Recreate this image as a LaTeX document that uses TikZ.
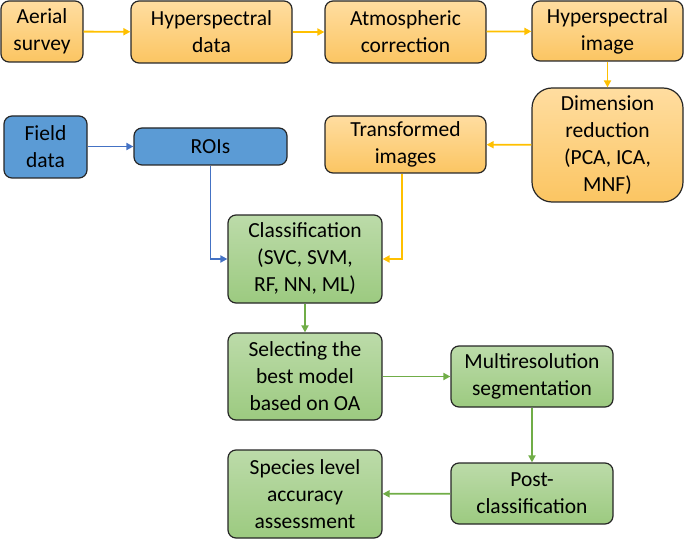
\documentclass[tikz,border=0pt]{standalone}
\usepackage{fontspec}
\setmainfont{Carlito}
\usetikzlibrary{arrows.meta}
\definecolor{orT}{HTML}{FFDDA0}
\definecolor{orB}{HTML}{FBC562}
\definecolor{grT}{HTML}{BCDBA9}
\definecolor{grB}{HTML}{9CCA80}
\definecolor{blF}{HTML}{5B9BD5}
\definecolor{yArr}{HTML}{FFC000}
\definecolor{bArr}{HTML}{4472C4}
\definecolor{gArr}{HTML}{70AD47}
\tikzset{
  boxbase/.style={draw=black!85, line width=1.2pt, rounded corners=8pt, align=center, inner sep=0pt,
    font=\fontsize{21.5}{27}\selectfont},
  orbox/.style={boxbase, top color=orT, bottom color=orB},
  grbox/.style={boxbase, top color=grT, bottom color=grB},
  blbox/.style={boxbase, fill=blF},
  sz/.style n args={2}{minimum width=#1pt, minimum height=#2pt},
  yarrow/.style={draw=yArr, line width=1.8pt, -{Triangle[length=7pt,width=7pt]}},
  barrow/.style={draw=bArr, line width=1.8pt, -{Triangle[length=7pt,width=7pt]}},
  garrow/.style={draw=gArr, line width=1.8pt, -{Triangle[length=7pt,width=7pt]}},
}
\begin{document}
\begin{tikzpicture}[x=1pt,y=-1pt]
\useasboundingbox (0,0) rectangle (685,540);
\node[orbox, sz={82}{61}] (aerial) at (42,31.5) {Aerial\\survey};
\node[orbox, sz={161}{62}] (hypdata) at (211.5,32) {Hyperspectral\\data};
\node[orbox, sz={161}{62}] (atmo) at (405.5,32) {Atmospheric\\correction};
\node[orbox, sz={151}{60}] (hypimg) at (607.5,31) {Hyperspectral\\image};
\node[orbox, sz={151}{114}, rounded corners=20pt] (dimred) at (607.5,145) {Dimension\\reduction\\(PCA, ICA,\\MNF)};
\node[orbox, sz={161}{57}] (trans) at (405.5,144.5) {Transformed\\images};
\node[blbox, sz={83}{62}] (field) at (45.5,147) {Field\\data};
\node[blbox, sz={153}{37}] (rois) at (210.5,146.5) {ROIs};
\node[grbox, sz={154}{88}] (class) at (305,259) {Classification\\(SVC, SVM,\\RF, NN, ML)};
\node[grbox, sz={154}{87}] (select) at (305,376.5) {Selecting the\\best model\\based on OA};
\node[grbox, sz={154}{88}] (species) at (305,494) {Species level\\accuracy\\assessment};
\node[grbox, sz={162}{61}] (multi) at (532,376.5) {Multiresolution\\segmentation};
\node[grbox, sz={162}{61}] (post) at (532,493.5) {Post-\\classification};
\draw[yarrow] (aerial) -- (hypdata);
\draw[yarrow] (hypdata) -- (atmo);
\draw[yarrow] (atmo) -- (hypimg);
\draw[yarrow] (hypimg) -- (dimred);
\draw[yarrow] (dimred) -- (trans);
\draw[yarrow] ([xshift=-3.5pt]trans.south) |- (class.east);
\draw[barrow] (field.east |- rois) -- (rois.west);
\draw[barrow] (rois.south) |- (class.west);
\draw[garrow] (class) -- (select);
\draw[garrow] (select) -- (multi);
\draw[garrow] (multi) -- (post);
\draw[garrow] (post) -- (species);
\end{tikzpicture}
\end{document}
